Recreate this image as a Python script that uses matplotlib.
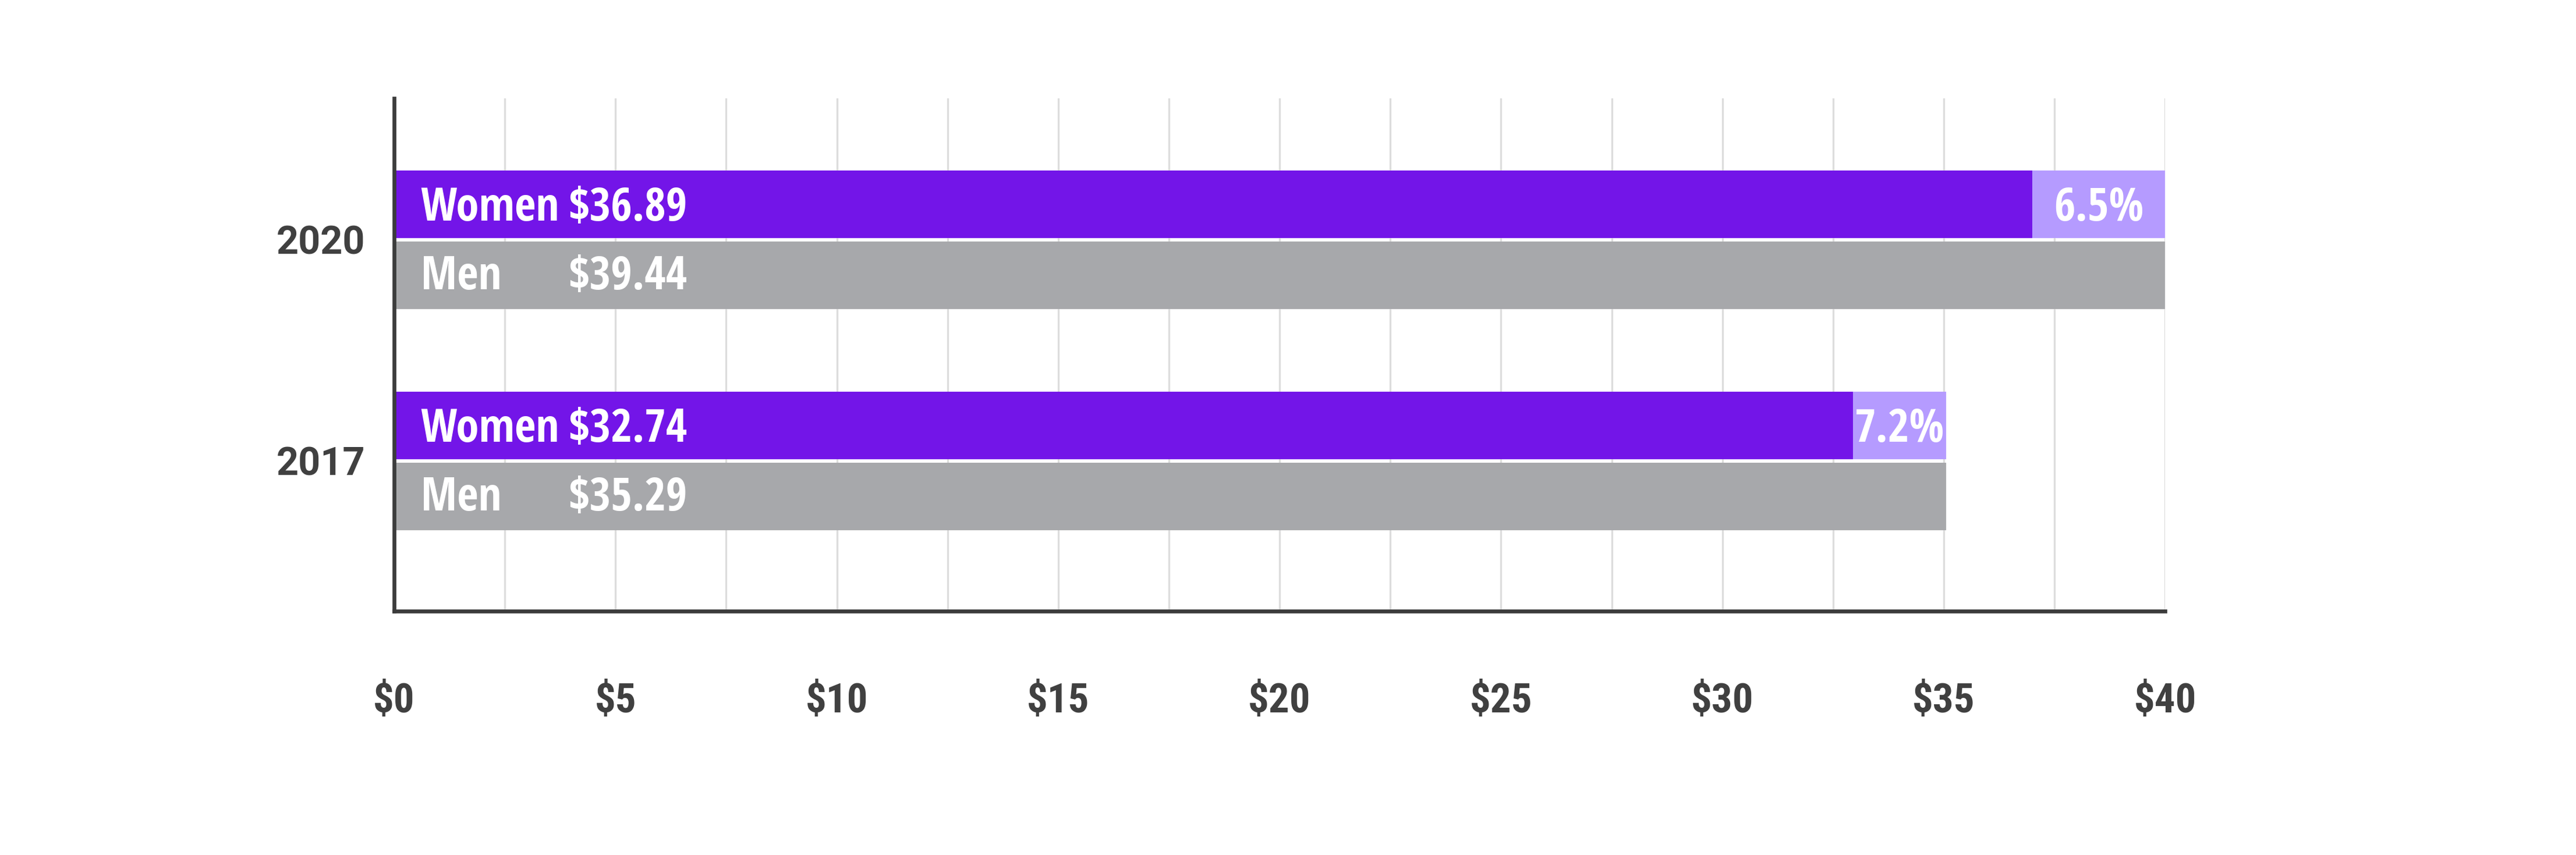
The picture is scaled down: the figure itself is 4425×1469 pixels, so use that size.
import numpy as np
import matplotlib
matplotlib.use("Agg")
from matplotlib import pyplot as plt
from matplotlib import font_manager

# data
years = ["2020", "2017"]
women = [36.89, 32.74]          # value printed in the bar
men = [39.44, 35.29]
# bar ends as drawn against the $ axis (the source art is not exactly to scale)
women_bar = [37.0, 32.95]
men_bar = [40.0, 35.05]
gap_labels = ["6.5%", "7.2%"]
xticks = [0, 5, 10, 15, 20, 25, 30, 35, 40]
xtick_labels = ["$0", "$5", "$10", "$15", "$20", "$25", "$30", "$35", "$40"]

PURPLE = "#7315e8"
LIGHT_PURPLE = "#b59bff"
GRAY = "#a7a8ab"
DARK = "#404040"


def pick_font(names):
    have = {f.name for f in font_manager.fontManager.ttflist}
    for n in names:
        if n in have:
            return n
    return "DejaVu Sans"


narrow = pick_font(["Liberation Sans Narrow", "Roboto Condensed", "Roboto"])
bar_font = pick_font(["Open Sans Condensed", "Liberation Sans Narrow", "Open Sans"])

fig = plt.figure(figsize=(14.75, 4.8967), dpi=300)
ax = fig.add_axes([0.153, 0.285, 0.6875, 0.600])

y = np.arange(len(years))
h = 0.305
off = 0.16
txt = dict(color="white", fontsize=19, fontweight="bold", family=bar_font,
           va="center", zorder=4)

ax.barh(y - off, women_bar, height=h, color=PURPLE, zorder=3)
ax.barh(y - off, np.array(men_bar) - np.array(women_bar), left=women_bar,
        height=h, color=LIGHT_PURPLE, zorder=3)
ax.barh(y + off, men_bar, height=h, color=GRAY, zorder=3)

for i in range(len(years)):
    ax.text(0.6, y[i] - off + 0.02, "Women", ha="left", **txt)
    ax.text(3.93, y[i] - off + 0.02, "$%.2f" % women[i], ha="left", **txt)
    ax.text(0.6, y[i] + off + 0.01, "Men", ha="left", **txt)
    ax.text(3.93, y[i] + off + 0.01, "$%.2f" % men[i], ha="left", **txt)
    ax.text((women_bar[i] + men_bar[i]) / 2, y[i] - off + 0.02, gap_labels[i],
            ha="center", **txt)

ax.set_xlim(0, 40)
ax.set_ylim(1.680, -0.639)
ax.set_xticks(xticks)
ax.set_xticklabels(xtick_labels, fontsize=17, fontweight="bold",
                   family=narrow, color=DARK)
ax.set_xticks(np.arange(2.5, 40.1, 2.5), minor=True)
ax.set_yticks(y)
ax.set_yticklabels(years, fontsize=16, fontweight="bold", family="Roboto",
                   color=DARK)
ax.tick_params(axis="x", which="both", length=0, pad=29)
ax.tick_params(axis="y", length=0, pad=12)

ax.grid(axis="x", which="both", color="#dddddd", linewidth=0.8, zorder=0)
for s in ["top", "right"]:
    ax.spines[s].set_visible(False)
for s in ["left", "bottom"]:
    ax.spines[s].set_color("#3c3c3c")
    ax.spines[s].set_linewidth(1.6)
    ax.spines[s].set_zorder(5)

fig.savefig("out.png", dpi=300, facecolor="white")
